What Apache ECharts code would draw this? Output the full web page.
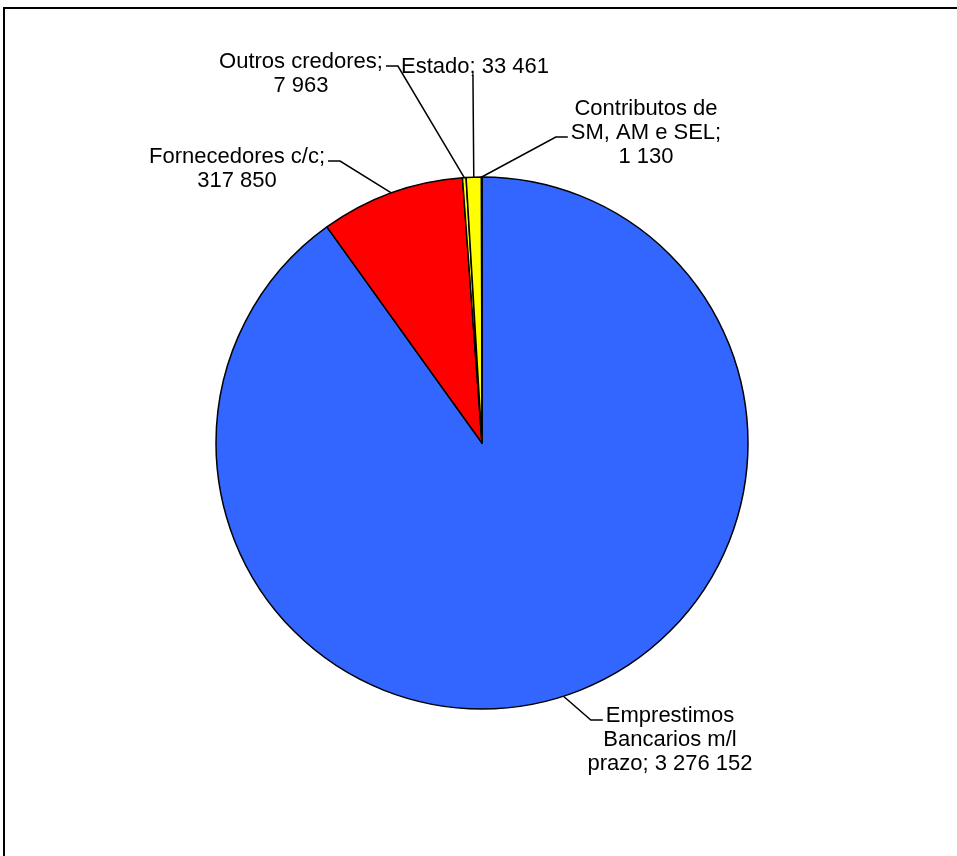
<!DOCTYPE html>
<html>
<head>
<meta charset="utf-8">
<script src="https://cdn.jsdelivr.net/npm/echarts@6/dist/echarts.min.js"></script>
<style>
  html, body { margin: 0; padding: 0; background: #fff; }
  #chart { width: 957px; height: 856px; }
</style>
</head>
<body>
<div id="chart"></div>
<script>
// --- données du graphique --- //
const categories = [
  'Emprestimos Bancarios m/l prazo',
  'Fornecedores c/c',
  'Outros credores',
  'Estado',
  'Contributos de SM, AM e SEL'
];
const values = [3276152, 317850, 7963, 33461, 1130];
const colors = ['#3366FF', '#FF0000', '#FFFF00', '#FFFF00', '#FFFF99'];

// retours à la ligne des étiquettes (index du mot avant lequel on coupe)
const wrapBefore = [[1, 3], [2], [2], [], [2, 6]];
// position du centre des étiquettes
const labelPos = [[670, 740], [237, 169], [301, 74], [475, 67], [646, 133]];
// accroche du trait : côté et ligne de texte
const labelAttach = [['left', 0], ['right', 0], ['right', 0], ['bottom', 0], ['left', 1]];

const FONT_SIZE = 22;
const LINE_H = 24;
const FONT = FONT_SIZE + 'px "Liberation Sans", Arial, sans-serif';

function fmt(v) {
  return String(v).replace(/\B(?=(\d{3})+(?!\d))/g, ' ');
}

function labelText(i) {
  const words = (categories[i] + '; ' + fmt(values[i])).split(' ');
  let out = '';
  words.forEach(function (w, k) {
    if (k > 0) out += wrapBefore[i].indexOf(k) >= 0 ? '\n' : ' ';
    out += w;
  });
  return out;
}

const measureCtx = document.createElement('canvas').getContext('2d');
measureCtx.font = FONT;

// trait de rappel : de l'ancre du secteur vers la ligne de texte choisie
function leader(i, anchor) {
  const lines = labelText(i).split('\n');
  const pos = labelPos[i];
  const side = labelAttach[i][0];
  const li = labelAttach[i][1];
  const y = pos[1] - (lines.length - 1) * LINE_H / 2 + li * LINE_H;
  const w = measureCtx.measureText(lines[li]).width;
  if (side === 'bottom') {
    const yb = pos[1] + lines.length * LINE_H / 2;
    return [anchor, [pos[0] - 2, yb + 4], [pos[0] - 2, yb - 4]];
  }
  const dir = side === 'left' ? -1 : 1;
  const x0 = pos[0] + dir * (w / 2 + 3);
  return [anchor, [x0 + dir * 12, y + 4], [x0, y + 4]];
}

const chart = echarts.init(document.getElementById('chart'));

const option = {
  backgroundColor: '#fff',
  animation: false,
  graphic: [
    {
      type: 'rect',
      shape: { x: 4, y: 8, width: 1000, height: 1000 },
      style: { fill: 'none', stroke: '#000', lineWidth: 2 }
    }
  ],
  series: [
    {
      type: 'pie',
      center: [482, 443],
      radius: 266,
      startAngle: 90,
      clockwise: true,
      avoidLabelOverlap: false,
      itemStyle: {
        borderColor: '#000',
        borderWidth: 1.5
      },
      label: {
        show: true,
        position: 'outside',
        color: '#000',
        fontFamily: '"Liberation Sans", Arial, sans-serif',
        fontSize: FONT_SIZE,
        lineHeight: LINE_H,
        align: 'center',
        formatter: function (p) { return labelText(p.dataIndex); }
      },
      labelLine: {
        show: true,
        length: 10,
        length2: 12,
        lineStyle: { color: '#000', width: 1.5 }
      },
      labelLayout: function (p) {
        const i = p.dataIndex;
        const pos = labelPos[i];
        const res = { x: pos[0], y: pos[1], align: 'center', verticalAlign: 'middle' };
        if (p.labelLinePoints && p.labelLinePoints.length) {
          const a = p.labelLinePoints[0];
          res.labelLinePoints = leader(i, [a[0], a[1]]);
        }
        return res;
      },
      data: categories.map(function (name, i) {
        return { name: name, value: values[i], itemStyle: { color: colors[i] } };
      })
    }
  ]
};

chart.setOption(option);
</script>
</body>
</html>
